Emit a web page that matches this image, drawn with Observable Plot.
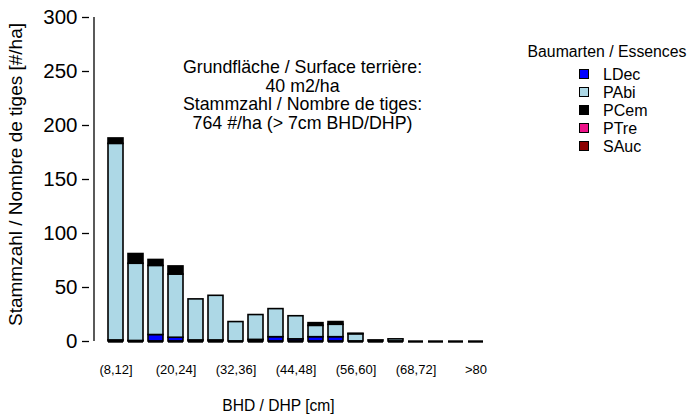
<!DOCTYPE html>
<html>
<head>
<meta charset="utf-8">
<script src="https://cdn.jsdelivr.net/npm/d3@7"></script>
<script src="https://cdn.jsdelivr.net/npm/@observablehq/plot@0.6"></script>
<style>
  html, body { margin: 0; padding: 0; background: #fff; }
  #wrap { position: relative; width: 689px; height: 415px; font-family: "Liberation Sans", Arial, sans-serif; }
  #legend { position: absolute; left: 520px; top: 40px; width: 169px; color: #000; }
  #legend .title { position: absolute; left: 0; width: 174px; text-align: center; top: 2px; font-size: 15.8px; line-height: 20px; white-space: nowrap; }
  #legend .item { position: absolute; left: 59px; height: 18px; font-size: 16px; line-height: 18px; white-space: nowrap; }
  #legend .sw { position: absolute; left: 0; top: 3px; width: 10px; height: 10px; border: 1.3px solid #000; box-sizing: border-box; }
  #legend .lab { position: absolute; left: 24px; top: 0; }
</style>
</head>
<body>
<div id="wrap"><div id="legend"></div></div>
<script>
// ---- data ----
const categories = ["(8,12]","(12,16]","(16,20]","(20,24]","(24,28]","(28,32]","(32,36]","(36,40]","(40,44]","(44,48]","(48,52]","(52,56]","(56,60]","(60,64]","(64,68]","(68,72]","(72,76]","(76,80]",">80"];
const xTickLabels = ["(8,12]","(20,24]","(32,36]","(44,48]","(56,60]","(68,72]",">80"];
const yTicks = [0, 50, 100, 150, 200, 250, 300];
const species = ["LDec","PAbi","PCem","PTre","SAuc"];
const speciesColors = ["#0000FF","#ADD8E6","#000000","#EE1289","#8B0000"];
const LDec = [1, 0.5, 6, 3.5, 1, 1, 0, 1.5, 4, 2, 4, 4, 0, 0, 0, 0, 0, 0, 0];
const PAbi = [182, 71.5, 64, 58.5, 38, 41.3, 18, 23, 26, 21.4, 10.5, 11.5, 6.7, 1, 2, 0, 0, 0, 0];
const PCem = [5, 9, 5.5, 7.5, 0, 0, 0, 0, 0, 0, 2.5, 2.5, 0.5, 0, 0, 0, 0, 0, 0];
const PTre = [0, 0, 0, 0, 0, 0, 0, 0, 0, 0, 0, 0, 0, 0, 0, 0, 0, 0, 0];
const SAuc = [0, 0, 0, 0, 0, 0, 0, 0, 0, 0, 0, 0, 0, 0, 0, 0, 0, 0, 0];
const annotationLines = ["Grundfläche / Surface terrière:", "40 m2/ha", "Stammzahl / Nombre de tiges:", "764 #/ha (> 7cm BHD/DHP)"];
const yTitle = "Stammzahl / Nombre de tiges [#/ha]";
const xTitle = "BHD / DHP [cm]";
const legendTitle = "Baumarten / Essences";

// ---- build long table ----
const series = {LDec, PAbi, PCem, PTre, SAuc};
const rows = [];
species.forEach(sp => {
  categories.forEach((c, i) => rows.push({cat: c, species: sp, value: series[sp][i]}));
});

const font = "'Liberation Sans', Arial, sans-serif";

const chart = Plot.plot({
  width: 689,
  height: 415,
  marginLeft: 89,
  marginRight: 187,
  marginTop: 17,
  marginBottom: 74,
  style: {fontFamily: font, fontSize: "13px", color: "#000", background: "transparent", overflow: "visible"},
  x: {type: "band", domain: categories, paddingInner: 0.268, paddingOuter: 0.707, axis: null},
  y: {domain: [0, 300], axis: null},
  color: {domain: species, range: speciesColors},
  marks: [
    Plot.barY(rows, {x: "cat", y: "value", fill: "species", order: species, stroke: "#000", strokeWidth: 1.6}),
    Plot.tickY(categories, {x: d => d, y: () => 0, stroke: "#000", strokeWidth: 2.4}),
    Plot.ruleX([categories[0]], {x: d => d, y1: yTicks[0], y2: yTicks[yTicks.length - 1], dx: -22, stroke: "#000", strokeWidth: 1.3}),
    Plot.axisY({ticks: yTicks, tickSize: 7, tickPadding: 5, fontSize: 20.5, label: null, strokeWidth: 1.3}),
    Plot.axisX({ticks: xTickLabels, tickSize: 0, tickPadding: 23, fontSize: 13, label: null}),
    Plot.text([annotationLines.join("\n")], {text: d => d, frameAnchor: "top", lineAnchor: "middle", textAnchor: "middle", dx: 6.5, dy: 77.5, fontSize: 17.8, lineHeight: 1.04, fill: "#000"}),
    Plot.text([yTitle], {text: d => d, frameAnchor: "left", textAnchor: "middle", rotate: -90, dx: -74, dy: -5, fontSize: 19, fill: "#000"}),
    Plot.text([xTitle], {text: d => d, frameAnchor: "bottom", textAnchor: "middle", dx: -17.5, dy: 69, fontSize: 15.6, fill: "#000"})
  ]
});

const wrap = document.getElementById("wrap");
wrap.insertBefore(chart, wrap.firstChild);

// ---- legend ----
const legend = document.getElementById("legend");
const t = document.createElement("div");
t.className = "title";
t.textContent = legendTitle;
legend.appendChild(t);
species.forEach((sp, i) => {
  const it = document.createElement("div");
  it.className = "item";
  it.style.top = (26 + i * 18) + "px";
  const sw = document.createElement("div");
  sw.className = "sw";
  sw.style.background = speciesColors[i];
  const lab = document.createElement("div");
  lab.className = "lab";
  lab.textContent = sp;
  it.appendChild(sw);
  it.appendChild(lab);
  legend.appendChild(it);
});
</script>
</body>
</html>
